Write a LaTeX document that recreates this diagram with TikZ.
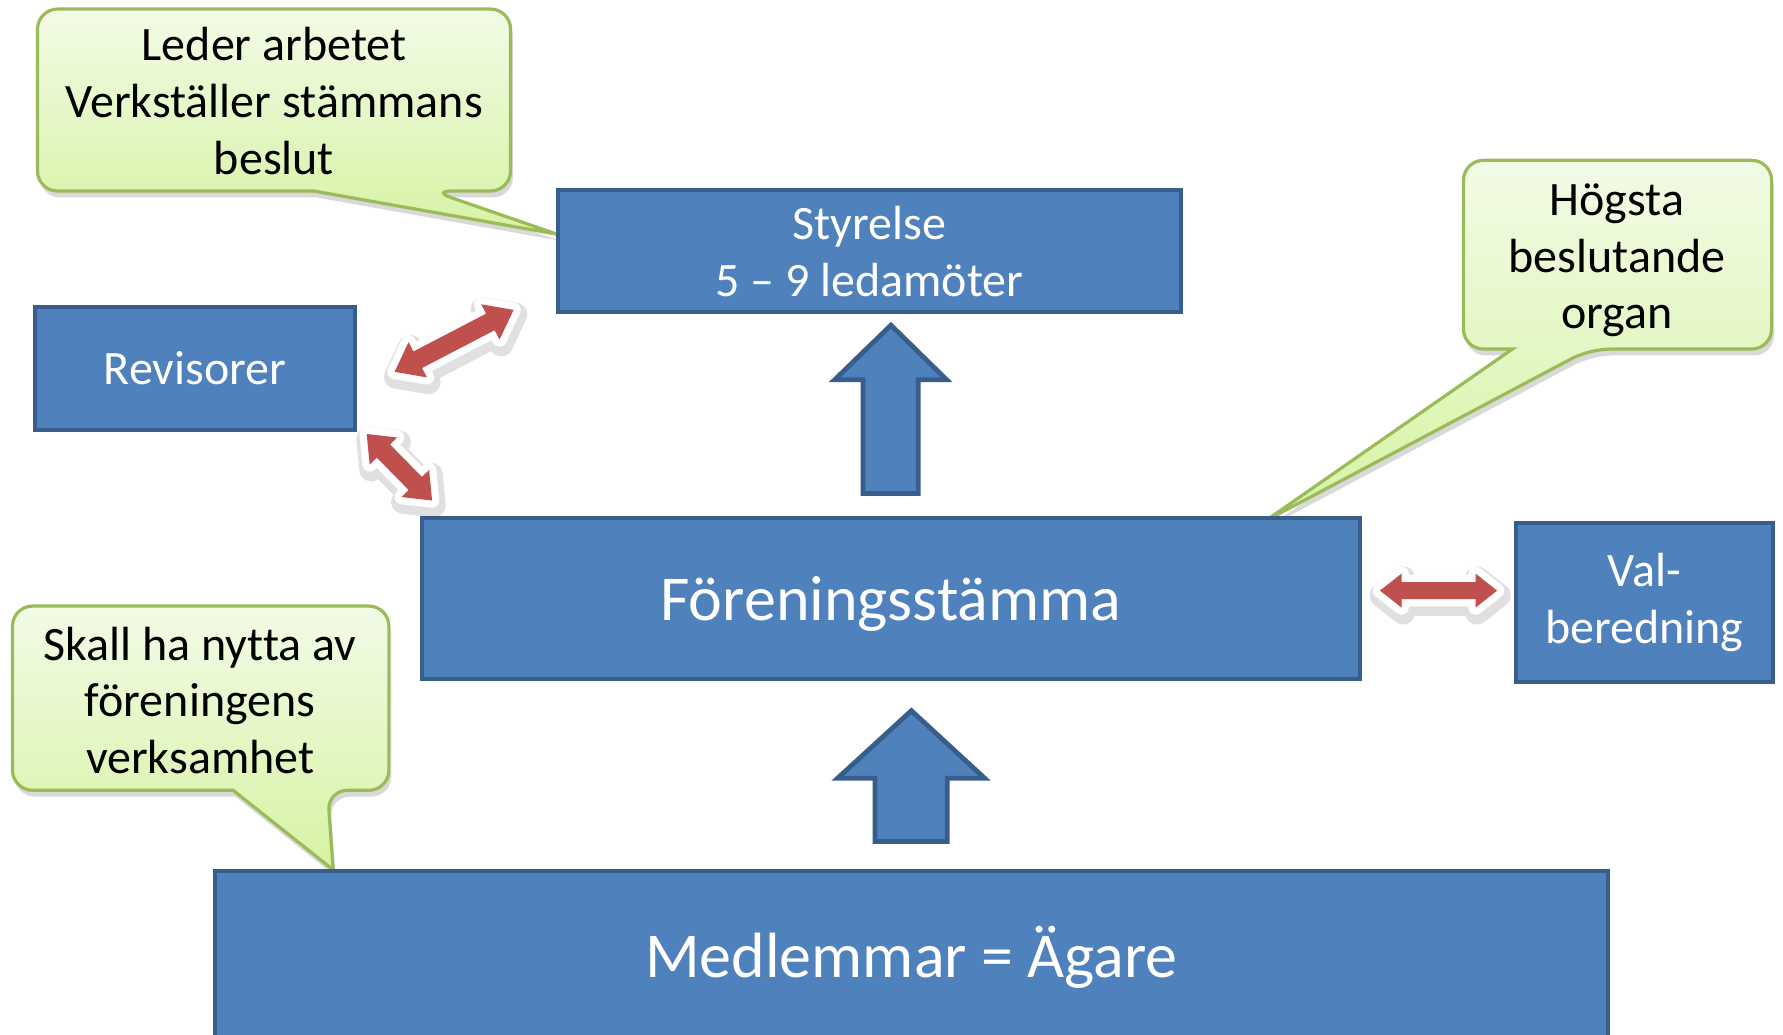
\documentclass[tikz,border=0pt]{standalone}
\usepackage{fontspec}
\setmainfont{Carlito}[Ligatures=NoCommon]
\usepackage{xcolor}
\usetikzlibrary{shadows}

\definecolor{boxfill}{HTML}{4F81BD}
\definecolor{boxline}{HTML}{385D8A}
\definecolor{arrowred}{HTML}{C0504D}
\definecolor{noteline}{HTML}{9BBB59}
\definecolor{notetop}{HTML}{F2FBE6}
\definecolor{notebottom}{HTML}{D6F3A4}

\begin{document}
\begin{tikzpicture}[x=0.01cm, y=-0.01cm,
  every text node part/.style={align=center},
  orgbox/.style={draw=boxline, fill=boxfill, line width=1pt, text=white, inner sep=0pt, font=\fontsize{12}{14.2}\selectfont},
  bigbox/.style={orgbox, font=\fontsize{16}{19}\selectfont},
  notetext/.style={inner sep=0pt, font=\fontsize{12}{14.2}\selectfont},
  bubble/.style={draw=noteline, line width=0.8pt, top color=notetop, bottom color=notebottom, drop shadow={shadow xshift=0.6pt, shadow yshift=-1.6pt, opacity=0.3}},
  uparrow/.style={draw=boxline, fill=boxfill, line width=1.2pt, line join=miter},
  twoway/.style={preaction={draw=black, opacity=0.12, line width=6pt, line join=round, transform canvas={xshift=0.4pt, yshift=-1.2pt}},
    preaction={draw=white, line width=3.6pt, line join=round}, fill=arrowred}]

  \clip (0,0) rectangle (1568,910);

  % Callouts
  \path[bubble] (490,206) -- (276,168) [rounded corners=5pt] -- (33,168) -- (33,8) -- (449,8) -- (449,168) -- (380,168) [sharp corners] -- cycle;
  \path[bubble] (1113,458) -- (1330,307) [rounded corners=5pt] -- (1287,307) -- (1287,141) -- (1558,141) -- (1558,307) -- (1398,307) [sharp corners] -- cycle;
  \path[bubble] (293,765) -- (205,695) [rounded corners=5pt] -- (11,695) -- (11,533) -- (342,533) -- (342,695) -- (288,695) [sharp corners] -- cycle;

  \node[notetext] (leder) at (241,89) {Leder arbetet\\Verkställer stämmans\\beslut};
  \node[notetext] (hogsta) at (1422,229) {Högsta\\beslutande\\organ};
  \node[notetext] (nytta) at (176,616) {Skall ha nytta av\\föreningens\\verksamhet};

  % Organs
  \node[orgbox, minimum width=5.47cm, minimum height=1.07cm] (styrelse) at (764.5,221) {Styrelse\\5 – 9 ledamöter};
  \node[orgbox, minimum width=2.81cm, minimum height=1.08cm] (revisorer) at (171.5,324) {Revisorer};
  \node[bigbox, minimum width=8.25cm, minimum height=1.41cm] (stamma) at (783.5,526.5) {\raisebox{-1.4pt}[\height][\depth]{Föreningsstämma}};
  \node[orgbox, minimum width=2.26cm, minimum height=1.40cm] (valber) at (1446,530) {Val-\\beredning};
  \node[bigbox, minimum width=12.25cm, minimum height=1.48cm] (medlem) at (801.5,840) {\raisebox{-0.6pt}[\height][\depth]{Medlemmar = Ägare}};

  % Up arrows
  \draw[uparrow] (759,434) -- (759,334) -- (734,334) -- (783.5,286) -- (832.5,334) -- (807.5,334) -- (807.5,434) -- cycle;
  \draw[uparrow] (769.5,740) -- (769.5,684.5) -- (736.5,684.5) -- (801.5,625) -- (866,684.5) -- (833,684.5) -- (833,740) -- cycle;

  % Two-way arrows
  \fill[twoway, shift={(347,327)}, rotate=27.5] (0,0) -- (23,-17.5) -- (23,-8.2) -- (95,-8.2) -- (95,-17.5) -- (118,0) -- (95,17.5) -- (95,8.2) -- (23,8.2) -- (23,17.5) -- cycle;
  \fill[twoway, shift={(322.5,381.7)}, rotate=-45.5] (0,0) -- (21,-17) -- (21,-8.2) -- (61,-8.2) -- (61,-17) -- (82,0) -- (61,17) -- (61,8.2) -- (21,8.2) -- (21,17) -- cycle;
  \fill[twoway, shift={(1213.6,519.4)}] (0,0) -- (19,-15) -- (19,-7.5) -- (84,-7.5) -- (84,-15) -- (103,0) -- (84,15) -- (84,7.5) -- (19,7.5) -- (19,15) -- cycle;

\end{tikzpicture}
\end{document}
